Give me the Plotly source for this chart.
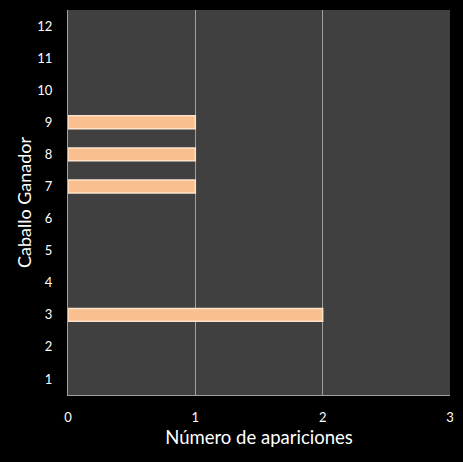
import plotly.graph_objects as go

caballos = [3, 7, 8, 9]
apariciones = [2, 1, 1, 1]
ticks_y = list(range(1, 13))
ticks_x = [0, 1, 2, 3]

fig = go.Figure()
fig.add_trace(go.Bar(
    x=apariciones, y=caballos, orientation="h",
    width=0.4,
    marker=dict(color="#F9BF8F", line=dict(color="#FDE3CB", width=1.5)),
))

fig.update_layout(
    width=463, height=462,
    margin=dict(l=68, r=13, t=10, b=67),
    paper_bgcolor="black", plot_bgcolor="#404040",
    font=dict(family="Lato", color="white", size=13),
    showlegend=False,
)
fig.update_xaxes(
    range=[0, 3], tickvals=ticks_x, showgrid=True, gridcolor="#A0A0A0", gridwidth=1,
    zeroline=False, showline=True, linecolor="#A0A0A0", linewidth=1,
    ticks="outside", ticklen=10, tickcolor="rgba(0,0,0,0)",
    title=dict(text="Número de apariciones", font=dict(size=18.5), standoff=7),
)
fig.update_yaxes(
    range=[0.5, 12.5], tickvals=ticks_y, showgrid=False,
    zeroline=False, showline=True, linecolor="#A0A0A0", linewidth=1,
    ticks="outside", ticklen=12, tickcolor="rgba(0,0,0,0)",
    title=dict(text="Caballo Ganador", font=dict(size=18), standoff=1),
)
fig.write_html("out.html", config={"displayModeBar": False},
               post_script="document.body.style.margin='0';")
